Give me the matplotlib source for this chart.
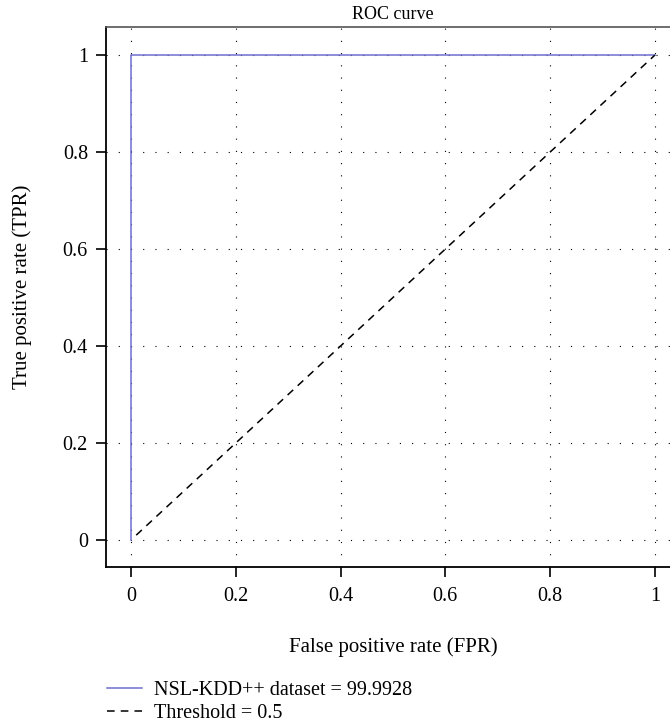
import matplotlib
matplotlib.use("Agg")
import matplotlib.pyplot as plt
from matplotlib.lines import Line2D

plt.rcParams["font.family"] = ["Liberation Serif", "DejaVu Serif"]

# ROC curve points
fpr = [0.0, 0.0, 1.0]
tpr = [0.0, 1.0, 1.0]
auc_label = "NSL-KDD++ dataset = 99.9928"

# Chance / threshold line
thr_x = [0.01, 1.0]
thr_y = [0.01, 1.0]
thr_label = "Threshold = 0.5"

ticks = [0, 0.2, 0.4, 0.6, 0.8, 1]
tick_labels = ["0", "0.2", "0.4", "0.6", "0.8", "1"]

W, H = 670, 727
fig = plt.figure(figsize=(W / 100, H / 100), dpi=100)

left, right, top, bottom = 106, 680, 27, 567
ax = fig.add_axes([left / W, 1 - bottom / H, (right - left) / W, (bottom - top) / H])

ax.set_xlim(-0.0477, 1.048)
ax.set_ylim(-0.0557, 1.058)

roc_color = "#6f6fd0"
ax.plot(fpr, tpr, color=roc_color, lw=1.1, zorder=3)
ax.plot(thr_x, thr_y, color="black", lw=1.1, linestyle=(0, (5, 4)), zorder=3)

ax.set_xticks(ticks)
ax.set_xticklabels(tick_labels)
ax.set_yticks(ticks)
ax.set_yticklabels(tick_labels)
ax.tick_params(direction="out", length=7.2, width=1.2, labelsize=14.5)
ax.tick_params(axis="x", pad=7.5)
ax.tick_params(axis="y", pad=5.8)

ax.grid(True, color="black", linestyle=(0, (1, 10)), linewidth=0.8)

for s in ["left", "bottom"]:
    ax.spines[s].set_linewidth(1.3)
    ax.spines[s].set_color("black")
ax.spines["top"].set_color("#555555")
ax.spines["top"].set_linewidth(1.2)
ax.spines["right"].set_visible(False)

ax.set_title("ROC curve", fontsize=13, pad=6)
ax.set_xlabel("False positive rate (FPR)", fontsize=15, labelpad=22)
ax.set_ylabel("True positive rate (TPR)", fontsize=15, labelpad=22)
ax.yaxis.label.set_y(0.518)

handles = [
    Line2D([], [], color=roc_color, lw=1.1),
    Line2D([], [], color="black", lw=1.1, linestyle=(0, (5, 4))),
]
fig.legend(handles, [auc_label, thr_label], loc="upper left",
           bbox_to_anchor=(93 / W, 1 - 667 / H), frameon=False,
           fontsize=14.5, handlelength=1.75, handletextpad=0.6,
           labelspacing=0.2, borderpad=0.2)

fig.savefig("out.png", dpi=100)
